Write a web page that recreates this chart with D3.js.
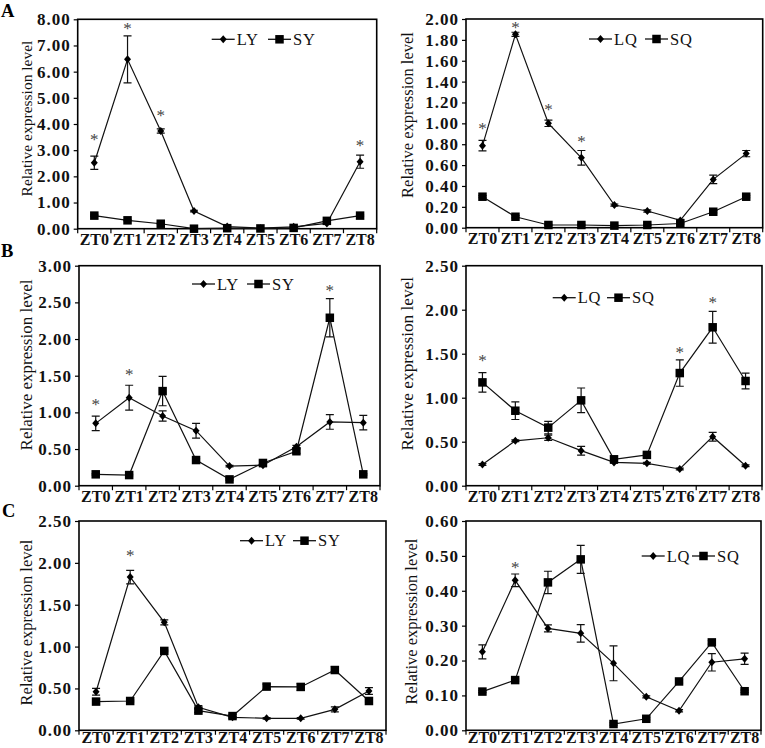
<!DOCTYPE html>
<html>
<head>
<meta charset="utf-8">
<script src="https://cdn.jsdelivr.net/npm/d3@7/dist/d3.min.js"></script>
<style>
  html, body { margin: 0; padding: 0; background: #fff; }
  svg { display: block; }
</style>
</head>
<body>
<svg id="chart" width="765" height="748"></svg>
<script>
// ---------------- DATA ----------------
const categories = ["ZT0", "ZT1", "ZT2", "ZT3", "ZT4", "ZT5", "ZT6", "ZT7", "ZT8"];

// Panel A (left): LY / SY
const aLY    = [2.52, 6.47, 3.73, 0.675, 0.08, 0.02, 0.07, 0.20, 2.56];
const aLYErr = [0.25, 0.90, 0.08, 0.03, 0.02, 0.01, 0.02, 0.03, 0.25];
const aSY    = [0.50, 0.32, 0.19, 0.00, 0.02, 0.01, 0.03, 0.30, 0.50];
const aSYErr = [0.03, 0.02, 0.02, 0.01, 0.01, 0.01, 0.01, 0.03, 0.03];
const aLeftTicks = [0, 1, 2, 3, 4, 5, 6, 7, 8];
const aLeftStars = [[0, 3.52], [1, 7.75], [2, 4.41], [8, 3.29]];

// Panel A (right): LQ / SQ
const aLQ    = [0.786, 1.853, 1.00, 0.67, 0.217, 0.16, 0.07, 0.463, 0.71];
const aLQErr = [0.05, 0.02, 0.03, 0.07, 0.01, 0.01, 0.01, 0.04, 0.03];
const aSQ    = [0.297, 0.105, 0.026, 0.026, 0.02, 0.026, 0.04, 0.153, 0.297];
const aSQErr = [0.01, 0.01, 0.005, 0.005, 0.005, 0.005, 0.005, 0.01, 0.01];
const aRightTicks = [0, 0.2, 0.4, 0.6, 0.8, 1.0, 1.2, 1.4, 1.6, 1.8, 2.0];
const aRightStars = [[0, 0.974], [1, 1.94], [2, 1.16], [3, 0.847]];

// Panel B (left): LY / SY
const bLY    = [0.85, 1.20, 0.95, 0.75, 0.268, 0.28, 0.53, 0.87, 0.86];
const bLYErr = [0.10, 0.17, 0.07, 0.10, 0.01, 0.02, 0.02, 0.10, 0.10];
const bSY    = [0.155, 0.145, 1.29, 0.35, 0.086, 0.31, 0.47, 2.29, 0.155];
const bSYErr = [0.01, 0.01, 0.20, 0.02, 0.01, 0.03, 0.03, 0.26, 0.01];
const bLeftTicks = [0, 0.5, 1.0, 1.5, 2.0, 2.5, 3.0];
const bLeftStars = [[0, 1.145], [1, 1.555], [7, 2.70]];

// Panel B (right): LQ / SQ
const bLQ    = [0.242, 0.51, 0.545, 0.398, 0.265, 0.254, 0.19, 0.557, 0.227];
const bLQErr = [0.01, 0.01, 0.03, 0.05, 0.01, 0.01, 0.01, 0.05, 0.01];
const bSQ    = [1.174, 0.852, 0.66, 0.97, 0.30, 0.35, 1.28, 1.80, 1.19];
const bSQErr = [0.11, 0.10, 0.07, 0.14, 0.02, 0.02, 0.15, 0.18, 0.09];
const bRightTicks = [0, 0.5, 1.0, 1.5, 2.0, 2.5];
const bRightStars = [[0, 1.447], [6, 1.54], [7, 2.11]];

// Panel C (left): LY / SY
const cLY    = [0.46, 1.83, 1.29, 0.275, 0.155, 0.143, 0.143, 0.25, 0.47];
const cLYErr = [0.04, 0.08, 0.03, 0.02, 0.01, 0.01, 0.01, 0.03, 0.04];
const cSY    = [0.343, 0.35, 0.948, 0.235, 0.17, 0.522, 0.518, 0.72, 0.35];
const cSYErr = [0.03, 0.01, 0.01, 0.02, 0.02, 0.03, 0.04, 0.04, 0.01];
const cLeftTicks = [0, 0.5, 1.0, 1.5, 2.0, 2.5];
const cLeftStars = [[1, 2.115]];

// Panel C (right): LQ / SQ
const cLQ    = [0.225, 0.43, 0.292, 0.278, 0.192, 0.096, 0.056, 0.195, 0.205];
const cLQErr = [0.02, 0.018, 0.01, 0.025, 0.05, 0.003, 0.003, 0.025, 0.016];
const cSQ    = [0.111, 0.144, 0.424, 0.49, 0.018, 0.033, 0.14, 0.252, 0.112];
const cSQErr = [0.003, 0.003, 0.032, 0.04, 0.003, 0.003, 0.005, 0.005, 0.003];
const cRightTicks = [0, 0.1, 0.2, 0.3, 0.4, 0.5, 0.6];
const cRightStars = [[1, 0.474]];

const panelLetters = ["A", "B", "C"];
const yTitle = "Relative expression level";

// ---------------- LAYOUT ----------------
const FONT = '"Liberation Serif","Times New Roman",Times,serif';
const panels = [
  { box: {l: 77.7, r: 376.7, t: 19.3, b: 228.7}, ticks: aLeftTicks, stars: aLeftStars, xpad: 5,
    series: [{name: "LY", v: aLY, e: aLYErr, m: "diamond"}, {name: "SY", v: aSY, e: aSYErr, m: "square"}],
    legend: {x1: 211.7, x2: 268, y: 39.3}, title: {x: 26, y: 118.5, fs: 15.5} },
  { box: {l: 466, r: 762.7, t: 19, b: 227.7}, ticks: aRightTicks, stars: aRightStars, xpad: 5,
    series: [{name: "LQ", v: aLQ, e: aLQErr, m: "diamond"}, {name: "SQ", v: aSQ, e: aSQErr, m: "square"}],
    legend: {x1: 589, x2: 645, y: 39}, title: {x: 407, y: 115, fs: 16.5} },
  { box: {l: 79, r: 380, t: 265.7, b: 485.7}, ticks: bLeftTicks, stars: bLeftStars, xpad: 5,
    series: [{name: "LY", v: bLY, e: bLYErr, m: "diamond"}, {name: "SY", v: bSY, e: bSYErr, m: "square"}],
    legend: {x1: 192, x2: 247, y: 284}, title: {x: 26, y: 365, fs: 17} },
  { box: {l: 466, r: 762, t: 265.7, b: 485.7}, ticks: bRightTicks, stars: bRightStars, xpad: 5,
    series: [{name: "LQ", v: bLQ, e: bLQErr, m: "diamond"}, {name: "SQ", v: bSQ, e: bSQErr, m: "square"}],
    legend: {x1: 552.7, x2: 607, y: 297.7}, title: {x: 407, y: 363.7, fs: 17.3} },
  { box: {l: 79, r: 386, t: 521, b: 730.3}, ticks: cLeftTicks, stars: cLeftStars, xpad: 1,
    series: [{name: "LY", v: cLY, e: cLYErr, m: "diamond"}, {name: "SY", v: cSY, e: cSYErr, m: "square"}],
    legend: {x1: 240, x2: 293, y: 540.7}, title: {x: 26, y: 622.5, fs: 16.5} },
  { box: {l: 466, r: 761, t: 521, b: 730.3}, ticks: cRightTicks, stars: cRightStars, xpad: 1,
    series: [{name: "LQ", v: cLQ, e: cLQErr, m: "diamond"}, {name: "SQ", v: cSQ, e: cSQErr, m: "square"}],
    legend: {x1: 641.7, x2: 692, y: 556}, title: {x: 411, y: 621.5, fs: 16.5} }
];
const letterPos = [{x: 1, y: 16.5}, {x: 1, y: 257}, {x: 2, y: 517}];

// ---------------- DRAW ----------------
const svg = d3.select("#chart");
const fmt = d3.format(".2f");

function marker(sel, type, cx, cy) {
  if (type === "diamond") {
    const w = 3.5, h = 4.0;
    sel.append("path")
      .attr("d", `M${cx},${cy - h}L${cx + w},${cy}L${cx},${cy + h}L${cx - w},${cy}Z`)
      .attr("fill", "#000");
  } else {
    const s = 8.5;
    sel.append("rect").attr("x", cx - s / 2).attr("y", cy - s / 2)
      .attr("width", s).attr("height", s).attr("fill", "#000");
  }
}

panels.forEach((p) => {
  const {l, r, t, b} = p.box;
  const g = svg.append("g");
  const x = d3.scaleBand().domain(categories).range([l, r]).padding(0);
  const yMax = p.ticks[p.ticks.length - 1];
  const y = d3.scaleLinear().domain([0, yMax]).range([b, t]);
  const cx = (c) => x(c) + x.bandwidth() / 2;

  // y axis
  const ya = g.append("g").attr("transform", `translate(${l},0)`)
    .call(d3.axisLeft(y).tickValues(p.ticks).tickFormat(fmt).tickSize(4).tickPadding(3));
  ya.select(".domain").remove();
  ya.selectAll("line").attr("stroke", "#000").attr("stroke-width", 1.2);
  ya.selectAll("text").attr("font-family", FONT).attr("font-size", 17)
    .attr("font-weight", "bold").attr("letter-spacing", 1).attr("fill", "#111");

  // x axis labels
  const xa = g.append("g").attr("transform", `translate(0,${b})`)
    .call(d3.axisBottom(x).tickSize(0).tickPadding(p.xpad));
  xa.select(".domain").remove();
  xa.selectAll("text").attr("font-family", FONT).attr("font-size", 16)
    .attr("font-weight", "bold").attr("fill", "#111");
  // boundary tick marks
  const bounds = categories.map((c) => x(c)).concat([r]);
  g.selectAll(".bt").data(bounds).enter().append("line")
    .attr("x1", (d) => d).attr("x2", (d) => d).attr("y1", b).attr("y2", b + 4.5)
    .attr("stroke", "#000").attr("stroke-width", 1.2);

  // frame
  g.append("rect").attr("x", l).attr("y", t).attr("width", r - l).attr("height", b - t)
    .attr("fill", "none").attr("stroke", "#000").attr("stroke-width", 1.6);

  // series
  const line = d3.line().x((d, i) => cx(categories[i])).y((d) => y(d));
  p.series.forEach((s) => {
    g.append("path").datum(s.v).attr("d", line)
      .attr("fill", "none").attr("stroke", "#111").attr("stroke-width", 1.2);
  });
  p.series.forEach((s) => {
    s.v.forEach((v, i) => {
      const e = s.e[i];
      const xx = cx(categories[i]);
      const y1 = y(v + e), y2 = y(Math.max(0, v - e));
      if (y2 - y1 > 1) {
        const cap = 4;
        g.append("path")
          .attr("d", `M${xx},${y1}V${y2}M${xx - cap},${y1}H${xx + cap}M${xx - cap},${y2}H${xx + cap}`)
          .attr("stroke", "#111").attr("stroke-width", 1.2).attr("fill", "none");
      }
    });
  });
  p.series.forEach((s) => {
    s.v.forEach((v, i) => marker(g, s.m, cx(categories[i]), y(v)));
  });

  // stars
  const sfs = 17;
  p.stars.forEach(([i, v]) => {
    g.append("text").attr("x", cx(categories[i])).attr("y", y(v) + 0.47 * sfs)
      .attr("text-anchor", "middle").attr("font-family", FONT).attr("font-size", sfs)
      .attr("fill", "#444").text("*");
  });

  // legend
  const lg = g.append("g");
  [p.legend.x1, p.legend.x2].forEach((lx, k) => {
    const s = p.series[k];
    lg.append("line").attr("x1", lx).attr("x2", lx + 23).attr("y1", p.legend.y).attr("y2", p.legend.y)
      .attr("stroke", "#111").attr("stroke-width", 1.3);
    marker(lg, s.m, lx + 11.5, p.legend.y);
    lg.append("text").attr("x", lx + 25).attr("y", p.legend.y + 5.5)
      .attr("font-family", FONT).attr("font-size", 16.5).attr("letter-spacing", 0.8)
      .attr("fill", "#111").text(s.name);
  });

  // y title
  g.append("text")
    .attr("transform", `translate(${p.title.x},${p.title.y}) rotate(-90)`)
    .attr("text-anchor", "middle").attr("dominant-baseline", "central")
    .attr("font-family", FONT).attr("font-size", p.title.fs).attr("fill", "#111")
    .text(yTitle);
});

// panel letters
panelLetters.forEach((L, i) => {
  svg.append("text").attr("x", letterPos[i].x).attr("y", letterPos[i].y)
    .attr("font-family", FONT).attr("font-size", 18.5).attr("font-weight", "bold")
    .attr("fill", "#000").text(L);
});
</script>
</body>
</html>
